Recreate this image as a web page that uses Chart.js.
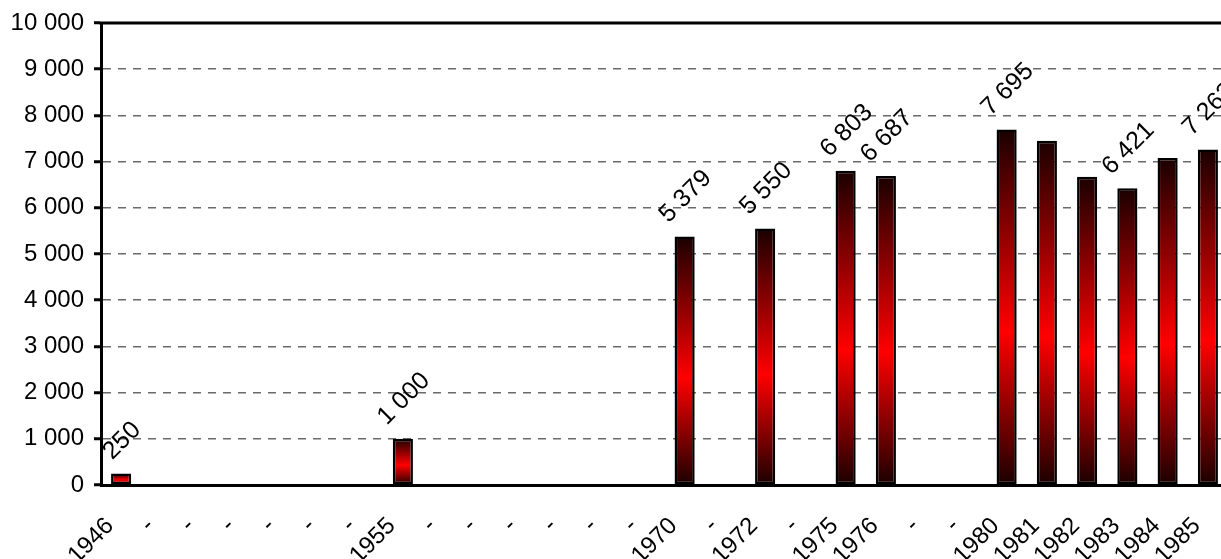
<!DOCTYPE html>
<html><head><meta charset="utf-8">
<script src="https://cdn.jsdelivr.net/npm/chart.js@4.4.0/dist/chart.umd.min.js"></script>
<style>
html,body{margin:0;padding:0;overflow:hidden;background:#fff;width:1221px;height:559px}
#wrap{position:absolute;left:0;top:0;width:1228px;height:559px}
</style>
</head><body><div id="wrap"><canvas id="c" width="1228" height="559"></canvas></div>
<script>
const categories = ['1946','-','-','-','-','-','-','1955','-','-','-','-','-','-','1970','-','1972','-','1975','1976','-','-','1980','1981','1982','1983','1984','1985'];
const values = [250,null,null,null,null,null,null,1000,null,null,null,null,null,null,5379,null,5550,null,6803,6687,null,null,7695,7450,6670,6421,7080,7263];
const showValueLabel = [true,false,false,false,false,false,false,true,false,false,false,false,false,false,true,false,true,false,true,true,false,false,true,false,false,true,false,true];
const yMin = 0, yMax = 10000, yStep = 1000;

const FONT = '"Liberation Sans", Arial, sans-serif';
const fmt = v => String(v).replace(/\B(?=(\d{3})+(?!\d))/g, ' ');

const valueLabelPlugin = {
  id: 'valueLabels',
  afterDatasetsDraw(chart) {
    const ctx = chart.ctx;
    const meta = chart.getDatasetMeta(0);
    ctx.save();
    ctx.font = '25px ' + FONT;
    ctx.fillStyle = '#000';
    ctx.textAlign = 'center';
    ctx.textBaseline = 'middle';
    meta.data.forEach((bar, i) => {
      if (values[i] == null || !showValueLabel[i]) return;
      const txt = fmt(values[i]);
      const L = ctx.measureText(txt).width;
      const off = 9 + (L + 25) / (2 * Math.SQRT2);
      ctx.save();
      ctx.translate(bar.x + 1, bar.y - off);
      ctx.rotate(-Math.PI / 4);
      ctx.fillText(txt, 0, 0);
      ctx.restore();
    });
    ctx.restore();
  },
  afterDraw(chart) {
    const {ctx, chartArea} = chart;
    ctx.save();
    ctx.strokeStyle = '#000';
    ctx.lineWidth = 3;
    ctx.beginPath();
    ctx.moveTo(chartArea.left - 1.5, chartArea.top);
    ctx.lineTo(chartArea.right + 2, chartArea.top);
    ctx.stroke();
    ctx.restore();
  }
};

new Chart(document.getElementById('c'), {
  type: 'bar',
  data: {
    labels: categories,
    datasets: [{
      data: values,
      borderColor: '#000',
      borderWidth: 2.5,
      borderSkipped: false,
      barPercentage: 0.5,
      categoryPercentage: 1,
      backgroundColor: (c) => {
        const chart = c.chart;
        const {chartArea, scales} = chart;
        if (!chartArea || c.raw == null || !scales.y) return '#ff0000';
        const top = scales.y.getPixelForValue(c.raw);
        const base = scales.y.getPixelForValue(0);
        if (!isFinite(top) || !isFinite(base) || base - top < 1) return '#ff0000';
        const g = chart.ctx.createLinearGradient(0, top, 0, base);
        g.addColorStop(0, '#1a0000');
        g.addColorStop(0.57, '#ff0000');
        g.addColorStop(1, '#1a0000');
        return g;
      }
    }]
  },
  options: {
    responsive: false,
    animation: false,
    devicePixelRatio: 1,
    layout: {padding: {top: 23, left: 0, right: 0, bottom: 0}},
    plugins: {legend: {display: false}, tooltip: {enabled: false}, title: {display: false}},
    scales: {
      x: {
        offset: true,
        grid: {display: false, drawTicks: false},
        border: {display: true, color: '#000', width: 3},
        ticks: {
          autoSkip: false, maxRotation: 45, minRotation: 45,
          labelOffset: -11, padding: 27,
          color: '#000', font: {family: FONT, size: 24}
        },
        afterFit: s => { s.height = 74; s.paddingLeft = 0; s.paddingRight = 0; }
      },
      y: {
        min: yMin, max: yMax,
        grid: {
          color: c => (c.tick && (c.tick.value === yMax || c.tick.value === yMin)) ? 'rgba(0,0,0,0)' : '#6a6a6a',
          lineWidth: 1.5,
          tickColor: '#000', tickWidth: 3, tickLength: 7, tickBorderDash: []
        },
        border: {display: true, color: '#000', width: 3, dash: [8, 7]},
        ticks: {
          stepSize: yStep, padding: 10, color: '#000',
          font: {family: FONT, size: 24},
          callback: v => fmt(v)
        },
        afterFit: s => { s.width = 101; s.paddingTop = 0; s.paddingBottom = 0; }
      }
    }
  },
  plugins: [valueLabelPlugin]
});
</script>
</body></html>
